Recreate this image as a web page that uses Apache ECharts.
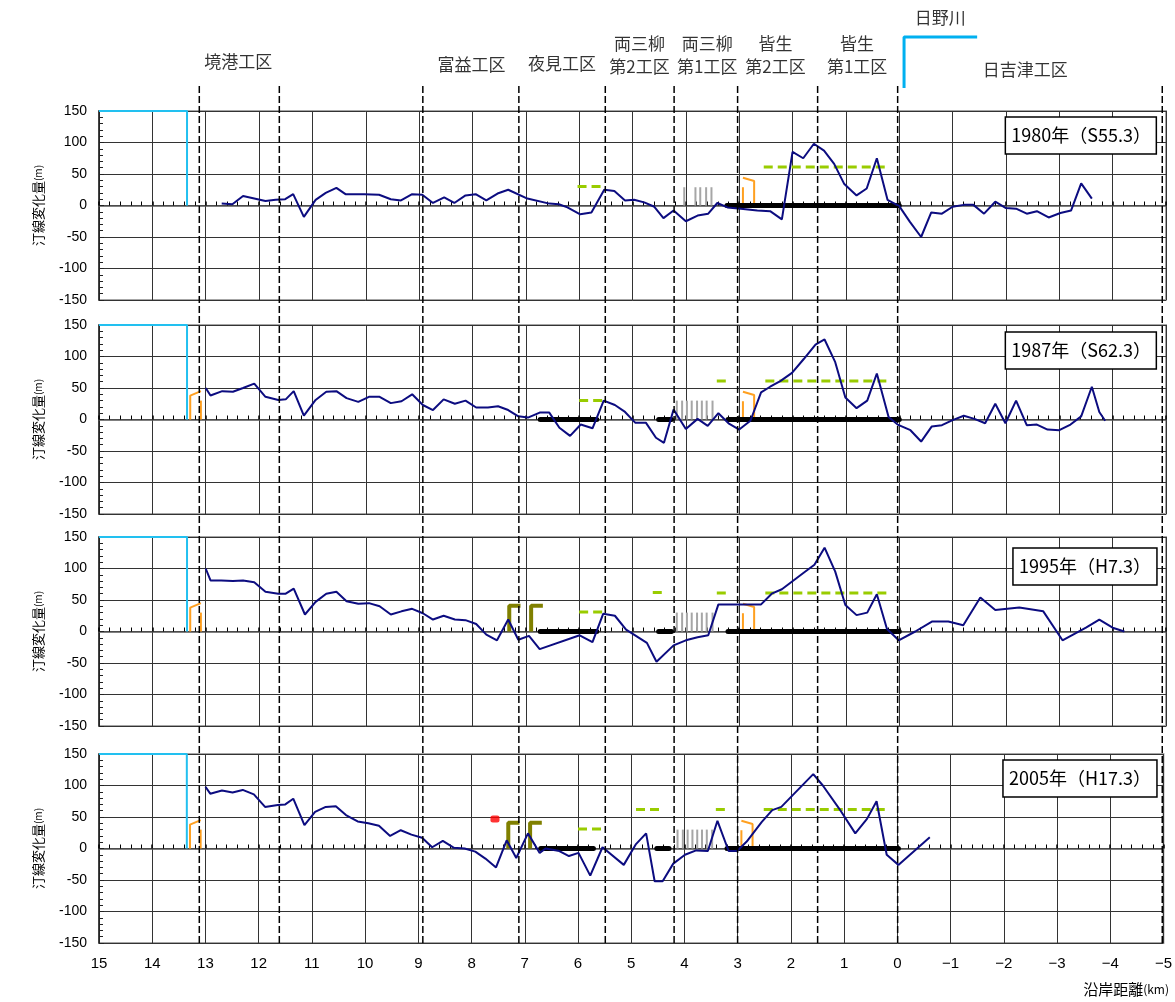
<!DOCTYPE html>
<html><head><meta charset="utf-8">
<script src="https://cdn.jsdelivr.net/npm/echarts@6/dist/echarts.min.js"></script>
<style>html,body{margin:0;padding:0;background:#fff}#c{width:1175px;height:1002px}</style>
</head><body><div id="c"></div>
<script>
// ================= DATA =================
const xTickLabels = [15,14,13,12,11,10,9,8,7,6,5,4,3,2,1,0,-1,-2,-3,-4,-5];
const yTickLabels = [-150,-100,-50,0,50,100,150];
const yearLabels = ['1980年（S55.3）','1987年（S62.3）','1995年（H7.3）','2005年（H17.3）'];

// shoreline change (m) vs alongshore distance (km)
const km1980 = [12.70,12.50,12.30,12.09,11.88,11.69,11.51,11.36,11.16,10.94,10.75,10.55,10.38,10.03,9.75,9.53,9.34,9.13,8.94,8.74,8.53,8.34,8.13,7.94,7.74,7.53,7.33,6.97,6.56,6.38,6.22,5.98,5.77,5.53,5.34,5.14,4.97,4.78,4.59,4.42,4.23,4.00,3.78,3.58,3.41,3.22,2.97,2.66,2.42,2.20,2.00,1.80,1.60,1.41,1.22,1.03,0.80,0.61,0.42,0.22,0.00,-0.20,-0.41,-0.60,-0.80,-1.00,-1.21,-1.39,-1.59,-1.80,-2.00,-2.19,-2.39,-2.58,-2.80,-3.02,-3.22,-3.41,-3.61];
const dv1980 = [3,2,15,11,7,9,10,18,-18,9,20,28,18,18,17,10,8,18,17,4,13,4,16,18,8,19,25,11,3,2,-3,-14,-11,25,23,8,9,5,-2,-20,-8,-25,-16,-13,4,-3,-5,-8,-9,-22,85,75,98,87,66,34,16,27,75,9,-1,-26,-50,-11,-13,-2,1,1,-13,6,-4,-5,-13,-9,-19,-12,-8,35,11];

const km1987 = [13.00,12.91,12.69,12.49,12.30,12.09,11.88,11.64,11.50,11.35,11.16,10.94,10.74,10.55,10.36,10.14,9.94,9.74,9.53,9.33,9.13,8.93,8.74,8.54,8.33,8.13,7.93,7.71,7.52,7.33,7.14,6.96,6.74,6.56,6.37,6.17,5.97,5.75,5.54,5.33,5.14,4.95,4.75,4.56,4.41,4.23,4.00,3.78,3.59,3.39,3.20,3.00,2.79,2.59,2.42,2.23,2.01,1.79,1.57,1.40,1.20,1.01,0.80,0.60,0.42,0.20,0.03,-0.21,-0.41,-0.61,-0.80,-1.00,-1.21,-1.41,-1.61,-1.80,-1.99,-2.19,-2.39,-2.58,-2.78,-3.00,-3.21,-3.41,-3.61,-3.75,-3.86];
const dv1987 = [50,38,45,44,50,57,36,31,32,45,6,31,44,45,34,28,36,36,26,29,40,23,15,32,25,30,19,19,21,15,5,3,11,11,-13,-26,-8,-14,30,23,12,-5,-5,-29,-37,16,-15,1,-10,10,-6,-16,-2,43,52,61,74,96,119,127,91,35,18,30,73,4,-8,-17,-35,-11,-9,-1,6,1,-6,25,-6,30,-9,-8,-16,-17,-8,5,52,12,-2];

const km1995 = [13.00,12.91,12.71,12.49,12.30,12.09,11.88,11.64,11.50,11.35,11.14,10.94,10.74,10.55,10.36,10.14,9.94,9.74,9.53,9.33,9.13,8.93,8.74,8.54,8.33,8.13,7.93,7.74,7.54,7.33,7.14,6.94,6.74,5.99,5.75,5.55,5.33,5.12,4.73,4.55,4.23,4.00,3.78,3.58,3.39,2.98,2.59,2.39,2.20,1.81,1.59,1.40,1.20,1.01,0.80,0.60,0.42,0.23,0.01,-0.30,-0.62,-0.92,-1.20,-1.52,-1.80,-2.25,-2.70,-3.06,-3.50,-3.75,-4.00,-4.22];
const dv1995 = [100,81,81,80,81,78,63,60,60,68,27,47,60,63,48,44,45,40,27,32,36,29,19,25,19,18,12,-5,-14,19,-13,-7,-28,-6,-17,28,25,3,-18,-48,-22,-14,-9,-6,43,43,43,60,67,92,106,133,95,42,26,30,59,4,-14,0,16,16,10,54,34,38,32,-14,6,19,6,0];

const km2005 = [13.00,12.91,12.69,12.49,12.30,12.09,11.88,11.64,11.50,11.35,11.14,10.94,10.74,10.55,10.36,10.14,9.94,9.74,9.53,9.33,9.13,8.93,8.74,8.54,8.33,8.13,7.93,7.74,7.54,7.34,7.16,6.94,6.72,6.61,6.35,6.17,5.99,5.77,5.54,5.14,4.91,4.72,4.56,4.41,4.21,3.99,3.78,3.56,3.38,3.17,3.01,2.83,2.55,2.35,2.18,1.58,1.40,1.09,0.79,0.57,0.39,0.20,-0.02,-0.61];
const dv2005 = [98,87,92,89,93,86,66,69,70,79,37,58,66,67,53,43,40,36,20,29,22,17,2,12,1,0,-5,-16,-30,13,-15,24,-7,0,-4,-12,-7,-43,2,-26,7,24,-52,-52,-24,-10,-3,-4,44,-4,-4,11,42,61,66,118,100,63,24,47,75,-10,-26,18];

// structures (km, m)
const cyanBox = [[15,150],[13.35,150],[13.35,0]];
const orangeWest = [[[13.29,0],[13.29,38],[13.09,45]], [[13.09,0],[13.09,30]]];
const orangeEast = [[[2.93,0],[2.93,29]], [[2.93,44],[2.72,39],[2.72,0]]];
const groins1980 = [4.03,3.82,3.73,3.62,3.52];
const groins8795 = [4.17,4.07,3.98,3.89,3.79,3.70,3.61,3.50];
const groins2005 = [4.13,4.03,3.94,3.85,3.76,3.67,3.58,3.48];
const groinHeight = [29,30,30,30];
const revet1980 = [[3.23,0.0]];
const revet8795 = [[6.73,5.67],[4.51,4.27],[3.21,0.0]];
const revet2005 = [[6.70,5.71],[4.52,4.29],[3.20,-0.02]];
const green1980 = [[6.03,5.51,30],[2.54,0.20,61]];
const green1987 = [[6.00,5.50,30],[3.42,3.18,61],[2.51,0.20,61]];
const green1995 = [[6.00,5.50,31],[4.62,4.39,62],[3.42,3.19,61],[2.51,0.20,61]];
const green2005 = [[6.00,5.48,31],[4.91,4.39,62],[3.41,3.17,62],[2.51,0.16,62]];
const olive = [[[7.31,0],[7.31,41],[7.10,41]], [[6.90,0],[6.90,41],[6.68,41]]];
const redPoint2005 = [[7.56,47]];

// section boundaries and names (km)
const boundaryKm = [13.12,11.62,8.93,7.13,5.51,4.22,3.03,1.53,0.03,-4.93];
const sectionNames = ['境港工区','富益工区','夜見工区','両三柳\n第2工区','両三柳\n第1工区','皆生\n第2工区','皆生\n第1工区','日野川','日吉津工区'];
const sectionKm = [12.39,8.02,6.32,4.87,3.60,2.32,0.79,-0.77,-2.36];
const riverMark = [[-0.09,88],[-0.09,37],[-1.46,37]];

// ================= LAYOUT / STYLE =================
const JP = '"Noto Sans CJK JP","Noto Sans",sans-serif';
const NUM = '"Liberation Sans","DejaVu Sans",sans-serif';
const PANEL_TOP = [111, 325, 537, 754];
const PANEL_H = 189;
const L = 99, R = 9;
const sectionLabelY = [62,65,64,55,55,55,55,18,70];
const yearBoxTop = [117,332,548,760];

const lines = [km1980,km1987,km1995,km2005].map((k,i)=>k.map((x,j)=>[x,[dv1980,dv1987,dv1995,dv2005][i][j]]));
const groins = [groins1980,groins8795,groins8795,groins2005];
const revets = [revet1980,revet8795,revet8795,revet2005];
const greens = [green1980,green1987,green1995,green2005];

const grid = PANEL_TOP.map(t=>({left:L,right:R,top:t,height:PANEL_H,show:true,borderColor:'#a6a6a6',borderWidth:2,backgroundColor:'#fff'}));
grid.push({left:L,right:R,top:0,height:943,show:false});

const fmtX = v => { const i = xTickLabels.indexOf(v); if (i<0) return ''; const t = xTickLabels[i]; return t<0 ? '−'+Math.abs(t) : String(t); };

const xAxis = [], yAxis = [];
for (let i=0;i<4;i++){
  xAxis.push({type:'value',gridIndex:i,min:-5,max:15,interval:1,inverse:true,position:'top',
    axisLine:{show:true,onZero:true,lineStyle:{color:'#555',width:1.5}},
    axisTick:{show:true,inside:false,length:4,lineStyle:{color:'#000',width:1.5}},
    minorTick:{show:true,splitNumber:5,length:4,lineStyle:{color:'#000',width:1}},
    axisLabel:{show:false},
    splitLine:{show:true,lineStyle:{color:'#333',width:1}}});
  xAxis.push({type:'value',gridIndex:i,min:-5,max:15,interval:1,inverse:true,position:'bottom',
    axisLine:{show:false,onZero:false},axisTick:{show:false},splitLine:{show:false},
    axisLabel:{show:i===3,formatter:fmtX,fontSize:15,color:'#000',margin:13,fontFamily:NUM}});
  yAxis.push({type:'value',gridIndex:i,min:-150,max:150,interval:50,position:'left',
    name:'汀線変化量{s|(m)}',nameLocation:'middle',nameGap:54,
    nameTextStyle:{fontSize:13,color:'#000',fontFamily:JP,rich:{s:{fontSize:10,fontFamily:JP,color:'#000'}}},
    axisLine:{show:true,onZero:false,lineStyle:{color:'#222',width:1.5}},
    axisTick:{show:true,inside:true,length:5,lineStyle:{color:'#222'}},
    minorTick:{show:true,splitNumber:5,length:4,lineStyle:{color:'#222'}},
    axisLabel:{fontSize:14,color:'#000',margin:12,fontFamily:NUM,
      formatter:v=>yTickLabels.includes(v)?String(v):''},
    splitLine:{show:true,lineStyle:{color:'#333',width:1}}});
}
xAxis.push({type:'value',gridIndex:4,min:-5,max:15,inverse:true,show:false});
yAxis.push({type:'value',gridIndex:4,min:0,max:943,inverse:true,show:false});

const series = [];
function line(p, data, style, z){
  series.push({type:'line',xAxisIndex:p===4?8:p*2,yAxisIndex:p,data:data,symbol:'none',silent:true,
    animation:false,lineStyle:style,z:z,connectNulls:false});
}
for (let p=0;p<4;p++){
  line(p, cyanBox, {color:'#22c0f0',width:2}, 3);
  greens[p].forEach(g=>line(p, [[g[0],g[2]],[g[1],g[2]]], {color:'#99cc00',width:3,type:[9,5]}, 4));
  groins[p].forEach(k=>line(p, [[k,0],[k,groinHeight[p]]], {color:'#a6a6a6',width:2}, 4));
  if (p>0) orangeWest.forEach(o=>line(p, o, {color:'#ffa020',width:2}, 5));
  orangeEast.forEach(o=>line(p, o, {color:'#ffa020',width:2}, 5));
  if (p>=2) olive.forEach(o=>line(p, o, {color:'#808000',width:4}, 5));
  revets[p].forEach(r=>line(p, [[r[0],0],[r[1],0]], {color:'#000',width:5,cap:'round'}, 6));
  line(p, lines[p], {color:'#0c0c80',width:2}, 8);
}
series.push({type:'scatter',xAxisIndex:6,yAxisIndex:3,data:redPoint2005,symbol:'roundRect',symbolSize:[9,7],
  itemStyle:{color:'#ff0000'},silent:true,animation:false,z:9});

// overlay: section boundaries, river marker, section names
boundaryKm.forEach(b=>line(4, [[b,86],[b,943]], {color:'#000',width:1.5,type:[7,3]}, 20));
line(4, riverMark, {color:'#00b0f0',width:3}, 20);
series.push({type:'scatter',xAxisIndex:8,yAxisIndex:4,silent:true,animation:false,z:21,
  data:sectionKm.map((k,i)=>[k,sectionLabelY[i]]),symbolSize:1,itemStyle:{color:'rgba(0,0,0,0)'},
  label:{show:true,position:'inside',formatter:p=>sectionNames[p.dataIndex],fontSize:17,lineHeight:23,
    color:'#000',fontFamily:JP,align:'center',verticalAlign:'middle'}});

const title = yearLabels.map((t,i)=>({text:t,right:18,top:yearBoxTop[i],borderColor:'#000',borderWidth:1.5,
  padding:[6,6,6,6],backgroundColor:'#fff',
  textStyle:{fontSize:18,fontWeight:'normal',color:'#000',fontFamily:JP,lineHeight:25}}));

const chart = echarts.init(document.getElementById('c'));
chart.setOption({
  animation:false,
  backgroundColor:'#fff',
  title:title,
  grid:grid, xAxis:xAxis, yAxis:yAxis, series:series,
  graphic:[{type:'text',right:6,top:982,style:{text:'沿岸距離{s|(km)}',fill:'#000',
    font:'15px '+JP,rich:{s:{fontSize:12,fontFamily:JP,fill:'#000'}}}}]
});
</script></body></html>
